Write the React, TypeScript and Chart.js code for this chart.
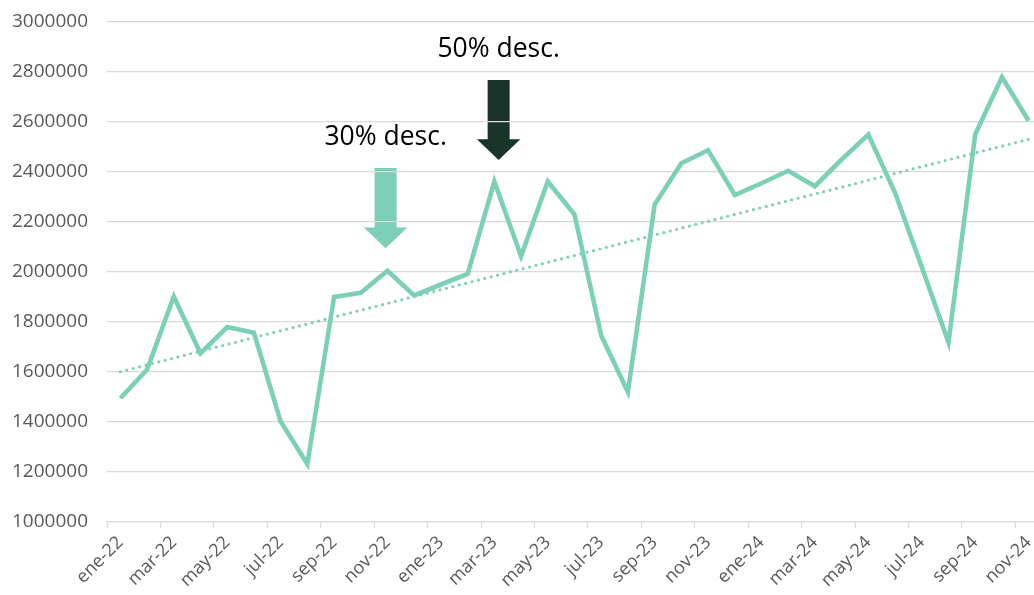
import React, { useEffect, useRef } from "react";
import { Chart, registerables } from "chart.js";

Chart.register(...registerables);

const months: string[] = [
  "ene-22", "feb-22", "mar-22", "abr-22", "may-22", "jun-22", "jul-22", "ago-22", "sep-22", "oct-22", "nov-22", "dic-22",
  "ene-23", "feb-23", "mar-23", "abr-23", "may-23", "jun-23", "jul-23", "ago-23", "sep-23", "oct-23", "nov-23", "dic-23",
  "ene-24", "feb-24", "mar-24", "abr-24", "may-24", "jun-24", "jul-24", "ago-24", "sep-24", "oct-24", "nov-24",
];

const sales: number[] = [
  1495000, 1610000, 1902000, 1675000, 1780000, 1757000, 1402000, 1232000, 1900000, 1917000, 2005000, 1906000,
  1950000, 1992000, 2362000, 2063000, 2362000, 2230000, 1746000, 1520000, 2270000, 2435000, 2487000, 2308000,
  2355000, 2405000, 2343000, 2450000, 2550000, 2317000, 2020000, 1718000, 2550000, 2780000, 2605000,
];

// linear trendline, start and end values
const trendStart = 1601000;
const trendEnd = 2531000;

const yTicks: number[] = [1000000, 1200000, 1400000, 1600000, 1800000, 2000000, 2200000, 2400000, 2600000, 2800000, 3000000];

// annotations: label, category position, arrow top value, arrow tip value, colour
const noteLabels: string[] = ["30% desc.", "50% desc."];
const noteIndex: number[] = [9.93, 14.16];
const noteTop: number[] = [2416000, 2768000];
const noteTip: number[] = [2095000, 2448000];
const noteColors: string[] = ["#7dcfb7", "#19352a"];

const LINE = "#7dd0b7";
const GRID = "#d9d9d9";
const TICK = "#595959";

export default function App() {
  const ref = useRef<HTMLCanvasElement | null>(null);

  useEffect(() => {
    const canvas = ref.current;
    if (!canvas) return;

    const trend = months.map((_, i) => (i === 0 ? trendStart : i === months.length - 1 ? trendEnd : null));

    const arrowPlugin = {
      id: "arrows",
      beforeDraw(chart: any) {
        const { ctx, scales } = chart;
        const x = scales.x;
        const y = scales.y;
        const step = x.getPixelForValue(1) - x.getPixelForValue(0);
        ctx.save();
        noteLabels.forEach((label, k) => {
          const cx = x.getPixelForValue(0) + noteIndex[k] * step;
          const top = y.getPixelForValue(noteTop[k]);
          const tip = y.getPixelForValue(noteTip[k]);
          const shaftW = 22;
          const headW = 43.5;
          const headL = 20.7;
          ctx.fillStyle = noteColors[k];
          ctx.beginPath();
          ctx.moveTo(cx - shaftW / 2, top);
          ctx.lineTo(cx + shaftW / 2, top);
          ctx.lineTo(cx + shaftW / 2, tip - headL);
          ctx.lineTo(cx + headW / 2, tip - headL);
          ctx.lineTo(cx, tip);
          ctx.lineTo(cx - headW / 2, tip - headL);
          ctx.lineTo(cx - shaftW / 2, tip - headL);
          ctx.closePath();
          ctx.fill();
          ctx.fillStyle = "#000000";
          ctx.font = "26.5px 'Open Sans', sans-serif";
          ctx.textAlign = "center";
          ctx.textBaseline = "alphabetic";
          ctx.fillText(label, cx, top - 23);
        });
        ctx.restore();
      },
    };

    const chart = new Chart(canvas, {
      type: "line",
      data: {
        labels: months,
        datasets: [
          {
            label: "Ventas",
            data: sales,
            borderColor: LINE,
            borderWidth: 4.6,
            pointRadius: 0,
            pointHoverRadius: 0,
            tension: 0,
            fill: false,
            borderJoinStyle: "miter",
            borderCapStyle: "butt",
          },
          {
            label: "Tendencia",
            data: trend,
            spanGaps: true,
            borderColor: LINE,
            borderWidth: 3.2,
            borderDash: [0, 6.6],
            borderCapStyle: "round",
            pointRadius: 0,
            pointHoverRadius: 0,
            fill: false,
          },
        ],
      },
      options: {
        animation: false,
        responsive: false,
        maintainAspectRatio: false,
        events: [],
        layout: { padding: { top: 22, right: 2, left: 0, bottom: 0 } },
        plugins: {
          legend: { display: false },
          tooltip: { enabled: false },
        },
        scales: {
          x: {
            type: "category",
            offset: true,
            grid: {
              offset: true,
              drawOnChartArea: false,
              drawTicks: true,
              tickLength: 6,
              tickWidth: 1.3,
              color: (c: any) => (c.index % 2 === 0 ? GRID : "rgba(0,0,0,0)"),
            },
            border: { display: true, color: GRID, width: 1.3 },
            ticks: {
              autoSkip: false,
              maxRotation: 45,
              minRotation: 45,
              padding: 4,
              color: TICK,
              font: { family: "'Open Sans', sans-serif", size: 18 },
              callback: (_v: any, i: number) => (i % 2 === 0 ? months[i] : ""),
            },
            afterFit: (s: any) => {
              s.height = 73;
              s.paddingRight = 0;
            },
          },
          y: {
            type: "linear",
            min: 1000000,
            max: 3000000,
            afterBuildTicks: (s: any) => {
              s.ticks = yTicks.map((v) => ({ value: v }));
            },
            grid: {
              color: GRID,
              lineWidth: 1.3,
              drawTicks: true,
              tickLength: 19,
              tickColor: "rgba(0,0,0,0)",
            },
            border: { display: false },
            ticks: {
              padding: 0,
              color: TICK,
              font: { family: "'Open Sans', sans-serif", size: 19 },
              callback: (v: any) => String(v),
            },
            afterFit: (s: any) => {
              s.width = 107;
            },
          },
        },
      },
      plugins: [arrowPlugin],
    });

    return () => chart.destroy();
  }, []);

  return (
    <div style={{ position: "fixed", left: 0, top: 0, width: 1034, height: 595, overflow: "hidden", background: "#fff" }}>
      <canvas ref={ref} width={1044} height={595} style={{ display: "block" }} />
    </div>
  );
}
